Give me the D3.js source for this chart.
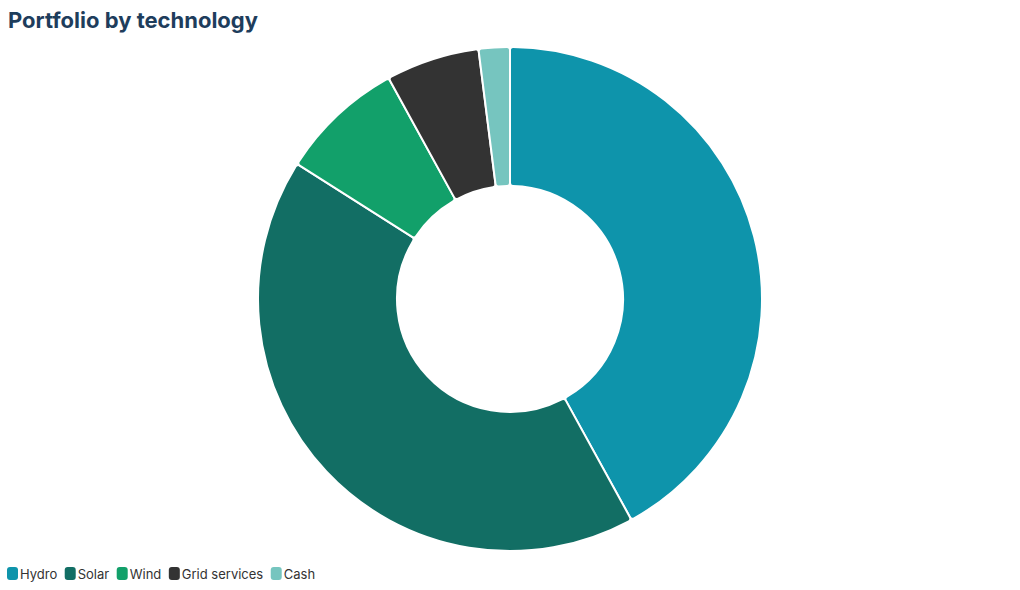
<!DOCTYPE html>
<html><head><meta charset="utf-8">
<script src="https://cdn.jsdelivr.net/npm/d3@7"></script>
<style>
body{margin:0;background:#fff;}
svg{display:block;}
</style></head>
<body>
<svg id="c" width="1020" height="590"></svg>
<script>
const categories = ["Hydro","Solar","Wind","Grid services","Cash"];
const values = [42, 42, 8, 6, 2];
const colors = ["#0e94ab","#126e64","#12a06a","#333333","#76c5bf"];
const title = "Portfolio by technology";

const svg = d3.select("#c");
const cx = 510, cy = 299, R = 252, r = 113;

svg.append("text").attr("x", 8).attr("y", 28)
  .attr("font-family", "Inter, 'Open Sans', sans-serif")
  .attr("font-weight", 700).attr("font-size", 22)
  .attr("fill", "#1e3d5c").text(title);

const data = categories.map((c,i)=>({name:c, value:values[i], color:colors[i]}));
const pie = d3.pie().value(d=>d.value).sort(null);
const arc = d3.arc().innerRadius(r).outerRadius(R).cornerRadius(3);
const g = svg.append("g").attr("transform", `translate(${cx},${cy})`);
g.selectAll("path").data(pie(data)).join("path")
  .attr("d", arc).attr("fill", d=>d.data.color)
  .attr("stroke", "#fff").attr("stroke-width", 2).attr("stroke-linejoin","round");

const leg = svg.append("g").attr("transform", "translate(7,574)");
let x = 0;
data.forEach(d=>{
  const it = leg.append("g").attr("transform", `translate(${x},0)`);
  it.append("rect").attr("x",0).attr("y",-7).attr("width",11).attr("height",13).attr("rx",3).attr("fill",d.color);
  const t = it.append("text").attr("x",13).attr("y",5)
    .attr("font-family","Inter, 'Open Sans', sans-serif").attr("font-size",13)
    .attr("fill","#333").text(d.name);
  x += 13 + t.node().getComputedTextLength() + 7.5;
});
</script>
</body></html>
